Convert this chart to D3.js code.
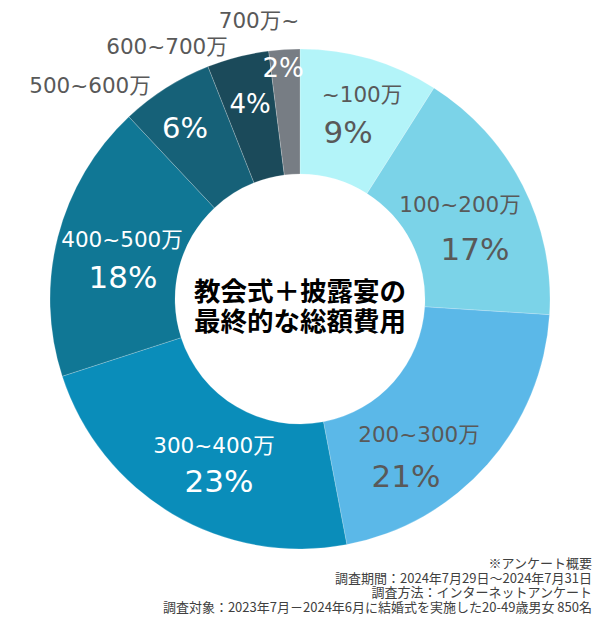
<!DOCTYPE html>
<html><head><meta charset="utf-8">
<script src="https://cdn.jsdelivr.net/npm/d3@7"></script>
<style>
html,body{margin:0;padding:0;background:#fff;}
svg{display:block;font-family:"DejaVu Sans","Noto Sans CJK JP",sans-serif;}
</style></head>
<body><svg id="c" width="600" height="630"></svg>
<script>
const categories = ["~100万","100~200万","200~300万","300~400万","400~500万","500~600万","600~700万","700万~"];
const values = [9,17,21,23,18,6,4,2];
const colors = ["#b3f4f9","#7bd3e8","#5bb8e8","#0a8dba","#107795","#166178","#1b4a5a","#777d84"];
const labelColors = ["#595959","#595959","#595959","#fff","#fff","#595959","#595959","#595959"];
const pctColors = ["#595959","#595959","#595959","#fff","#fff","#fff","#fff","#fff"];
const titleLines = ["教会式＋披露宴の","最終的な総額費用"];
const notes = ["※アンケート概要","調査期間：2024年7月29日～2024年7月31日","調査方法：インターネットアンケート","調査対象：2023年7月－2024年6月に結婚式を実施した20-49歳男女 850名"];

// label layout (center x, baseline y) for category label and percentage
const labelPos = [[362,102],[460,212],[419,442],[214,453],[122,247],[90,93],[167,54],[259,28]];
const pctPos = [[348,143],[475,260],[406,487],[219,492],[123,288],[185,138],[250,113],[283,77]];
const pctSize = [31,31,31,31,31,29,26,26];

const svg = d3.select("#c");
const cx = 300, cy = 299, R = 250, r = 125;
const g = svg.append("g").attr("transform",`translate(${cx},${cy})`);
const pie = d3.pie().sort(null).value(d=>d)(values);
const arc = d3.arc().innerRadius(r).outerRadius(R);
g.selectAll("path").data(pie).join("path")
  .attr("d",arc).attr("fill",(d,i)=>colors[i])
  .attr("stroke","rgba(255,255,255,0.35)").attr("stroke-width",0.6);

svg.selectAll("text.lab").data(categories).join("text").attr("class","lab")
  .attr("x",(d,i)=>labelPos[i][0]).attr("y",(d,i)=>labelPos[i][1])
  .attr("text-anchor","middle").attr("font-size",21.5)
  .attr("fill",(d,i)=>labelColors[i]).text(d=>d);
svg.selectAll("text.pct").data(values).join("text").attr("class","pct")
  .attr("x",(d,i)=>pctPos[i][0]).attr("y",(d,i)=>pctPos[i][1])
  .attr("text-anchor","middle").attr("font-size",(d,i)=>pctSize[i])
  .attr("fill",(d,i)=>pctColors[i]).text(d=>d+"%");

svg.selectAll("text.title").data(titleLines).join("text").attr("class","title")
  .attr("x",cx).attr("y",(d,i)=>301+i*30).attr("text-anchor","middle")
  .style("font-family","'Noto Sans CJK JP',sans-serif")
  .attr("font-size",26.5).attr("font-weight","bold").attr("fill","#000").text(d=>d);

svg.selectAll("text.note").data(notes).join("text").attr("class","note")
  .attr("x",592).attr("y",(d,i)=>568+i*14.7).attr("text-anchor","end")
  .style("font-family","'Noto Sans CJK JP',sans-serif")
  .attr("font-size",13).attr("fill","#404040").text(d=>d);
</script></body></html>
